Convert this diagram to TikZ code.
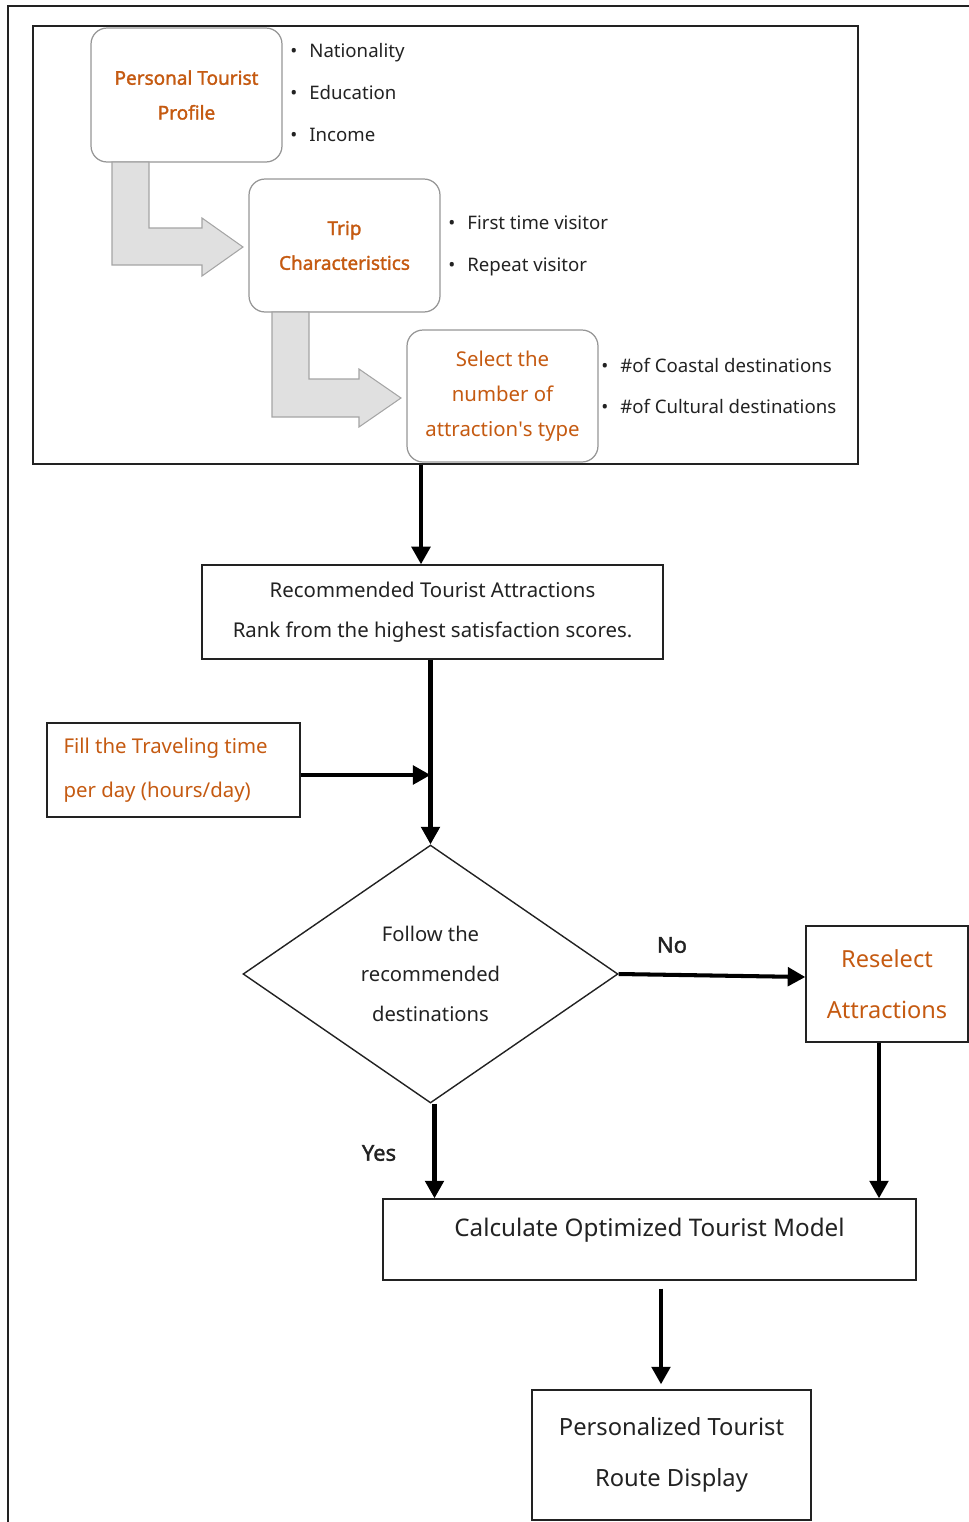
\documentclass[tikz,border=0pt]{standalone}
\usepackage{fontspec}
\setmainfont{Noto Sans}[AutoFakeBold=1.6]
\usepackage{xcolor}
\usepackage{tikz}
\usetikzlibrary{shapes.geometric, arrows.meta, positioning, calc}
\definecolor{tourorange}{RGB}{197, 90, 17}
\definecolor{roundgray}{RGB}{150, 150, 150}
\definecolor{blockfill}{RGB}{224, 224, 224}
\definecolor{blockgray}{RGB}{165, 165, 165}
\definecolor{inkdark}{RGB}{34, 34, 34}

\tikzset{
  stagebox/.style={draw=roundgray, line width=0.7pt, rounded corners=0.32cm, fill=white,
                   minimum width=3.82cm, align=center, text=tourorange, inner sep=0pt},
  plainbox/.style={draw=inkdark, line width=0.8pt, align=center, inner sep=0pt, text=inkdark},
  bulletlist/.style={anchor=west, align=left, inner sep=0pt, text=inkdark,
                     font=\fontsize{10.6}{23.8}\selectfont},
  blockarrow/.style={fill=blockfill, draw=blockgray, line width=0.6pt},
  flow/.style={line width=2.3pt, -{Triangle[length=10pt, width=10.5pt]}},
  answer/.style={font=\fontsize{12.5}{15}\selectfont\bfseries, text=inkdark}
}
\newcommand{\bitem}[1]{\makebox[0.38cm][l]{\textbullet}#1}

\begin{document}
\begin{tikzpicture}[x=0.02cm, y=-0.02cm]
    \useasboundingbox (0,0) rectangle (969,1522);
    % page edge
    \draw[inkdark, line width=0.8pt] (8,1522) -- (8,6) -- (969,6);

    % input block
    \node[draw=inkdark, line width=1.1pt, minimum width=16.5cm, minimum height=8.76cm,
          inner sep=0pt] (frame) at (445.5,245) {};

    \node[stagebox, minimum height=2.68cm, font=\fontsize{10.8}{19.8}\selectfont\bfseries]
        (profile) at (186.5,95) {Personal Tourist\\Profile};
    \node[stagebox, minimum height=2.66cm, font=\fontsize{10.8}{19.8}\selectfont\bfseries]
        (trip) at (344.5,245.5) {Trip\\Characteristics};
    \node[stagebox, minimum height=2.64cm, font=\fontsize{11.6}{19.8}\selectfont]
        (select) at (502.5,396) {Select the\\number of\\attraction\textquotesingle s type};

    \node[bulletlist] (profileList) at (290,92.5)
        {\bitem{Nationality}\\\bitem{Education}\\\bitem{Income}};
    \node[bulletlist] (tripList) at (448,246)
        {\bitem{First time visitor}\\\bitem{Repeat visitor}};
    \node[bulletlist] (selectList) at (601,386)
        {\bitem{\#of Coastal destinations}\\\bitem{\#of Cultural destinations}};

    % bent block arrows
    \draw[blockarrow] (112,162) -- (149,162) -- (149,228) -- (202,228) -- (202,218)
        -- (243,247) -- (202,276) -- (202,265) -- (112,265) -- cycle;
    \draw[blockarrow] (272,312) -- (309,312) -- (309,379) -- (359,379) -- (359,369)
        -- (401,398) -- (359,427) -- (359,417) -- (272,417) -- cycle;

    % flow part
    \node[plainbox, minimum width=9.22cm, minimum height=1.88cm,
          font=\fontsize{11.6}{22.7}\selectfont] (rec) at (432.5,612)
        {Recommended Tourist Attractions\\Rank from the highest satisfaction scores.};
    \node[plainbox, minimum width=5.06cm, minimum height=1.88cm, text=tourorange,
          font=\fontsize{11.6}{25}\selectfont] (fill) at (173.5,770)
        {\makebox[4.4cm][l]{Fill the Traveling time}\\\makebox[4.4cm][l]{per day (hours/day)}};
    \node[draw=inkdark, line width=0.8pt, shape=diamond, minimum width=7.5cm,
          minimum height=5.16cm, inner sep=0pt, align=center, text=inkdark,
          font=\fontsize{11.5}{22.7}\selectfont] (decide) at (430.5,974)
        {Follow the\\recommended\\destinations};
    \node[plainbox, minimum width=3.24cm, minimum height=2.32cm, text=tourorange,
          font=\fontsize{13.4}{29}\selectfont] (reselect) at (887,984)
        {Reselect\\Attractions};
    \node[plainbox, minimum width=10.66cm, minimum height=1.62cm,
          font=\fontsize{13.8}{15}\selectfont] (calc) at (649.5,1239.5)
        {Calculate Optimized Tourist Model\\[-0.05cm]};
    \node[plainbox, minimum width=5.58cm, minimum height=2.6cm,
          font=\fontsize{13.5}{29}\selectfont] (route) at (671.5,1455)
        {Personalized Tourist\\Route Display};

    \node[answer] (noLabel) at (672,945) {No};
    \node[answer] (yesLabel) at (379,1153) {Yes};

    % connectors
    \draw[flow] ([xshift=-0.23cm]rec.north |- frame.south) -- ([xshift=-0.23cm]rec.north);
    \draw[flow] (rec.south -| decide.north) -- (decide.north);
    \draw[flow] ([yshift=-0.1cm]fill.east) -- ([yshift=-0.1cm]fill.east -| decide.north);
    \draw[flow] (decide.east) -- ([yshift=-0.06cm]decide.east -| reselect.west);
    \draw[flow] ([xshift=0.08cm]decide.south) -- ([xshift=0.08cm]decide.south |- calc.north);
    \draw[flow] ([xshift=-0.16cm]reselect.south) -- ([xshift=-0.16cm]reselect.south |- calc.north);
    \draw[flow, shorten <=0.16cm, shorten >=0.1cm] ([xshift=-0.21cm]route.north |- calc.south)
        -- ([xshift=-0.21cm]route.north);
\end{tikzpicture}
\end{document}
